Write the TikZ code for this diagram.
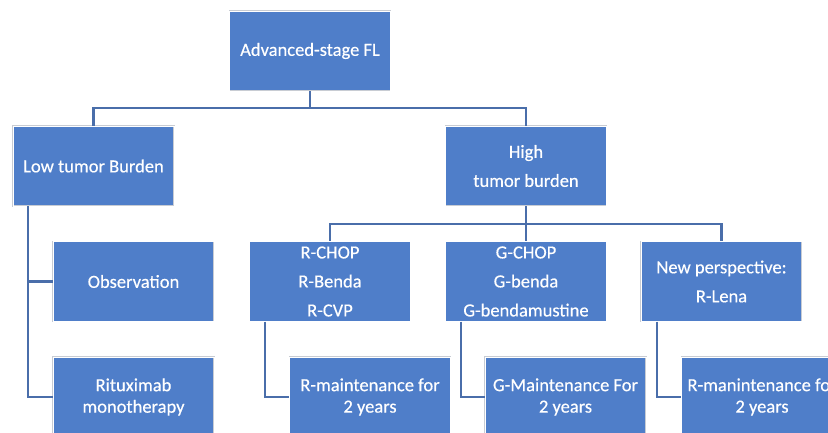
\documentclass[tikz,border=0pt]{standalone}
\usepackage{fontspec}
\setmainfont{Carlito}[BoldFont=Carlito, BoldFeatures={FakeBold=0.35}]
\usepackage{tikz}
\usetikzlibrary{positioning,calc}
\definecolor{BoxBlue}{HTML}{4F7EC9}
\definecolor{LinkBlue}{HTML}{4A6EAA}
\definecolor{EdgeGray}{HTML}{C8CCD3}

\begin{document}
\begin{tikzpicture}[
    x=1pt, y=-1pt,
    box/.style={rectangle, fill=BoxBlue, draw=EdgeGray, double=white, double distance=0.8pt, line width=0.4pt,
      minimum width=161pt, minimum height=80pt, inner sep=2pt, align=center, text=white,
      font=\fontsize{18.5}{29}\selectfont\bfseries},
    tightbox/.style={box, font=\fontsize{18.5}{21.5}\selectfont\bfseries},
    link/.style={draw=LinkBlue, line width=2.2pt}
  ]
    \useasboundingbox (0,0) rectangle (828,432);
    \clip (0,0) rectangle (828,432);

    % Top level
    \node[box] (root) at (310,51) {Advanced-stage FL};

    % Tumor burden
    \node[box] (low) at (93.5,166) {Low tumor Burden};
    \node[box] (high) at (526,166) {High\\tumor burden};
    \draw[link] (root.south) -- ++(0,17) -| (low.north);
    \draw[link] (root.south) -- ++(0,17) -| (high.north);

    % Low tumor burden branch
    \node[box] (obs) at (133.5,281.5) {Observation};
    \node[tightbox] (ritux) at (133.5,397) {Rituximab\\monotherapy};
    \coordinate (lowdrop) at ($(low.south west)+(15,0)$);
    \draw[link] (lowdrop) |- (obs.west);
    \draw[link] (lowdrop) |- (ritux.west);

    % High tumor burden branch
    \node[box] (rchop) at (330,281.5) {R-CHOP\\R-Benda\\R-CVP};
    \node[box] (gchop) at (526,281.5) {G-CHOP\\G-benda\\G-bendamustine};
    \node[box] (rlena) at (721.5,281.5) {New perspective:\\R-Lena};
    \draw[link] (high.south) -- ++(0,18) -| (rchop.north);
    \draw[link] (high.south) -- ++(0,18) -| (gchop.north);
    \draw[link] (high.south) -- ++(0,18) -| (rlena.north);

    % Maintenance
    \node[tightbox] (rmaint) at (370,397) {R-maintenance for\\2 years};
    \node[tightbox] (gmaint) at (565.5,397) {G-Maintenance For\\2 years};
    \node[tightbox] (lmaint) at (762,397) {R-manintenance for\\2 years};
    \draw[link] ($(rchop.south west)+(16,0)$) |- (rmaint.west);
    \draw[link] ($(gchop.south west)+(16,0)$) |- (gmaint.west);
    \draw[link] ($(rlena.south west)+(16,0)$) |- (lmaint.west);
\end{tikzpicture}
\end{document}
